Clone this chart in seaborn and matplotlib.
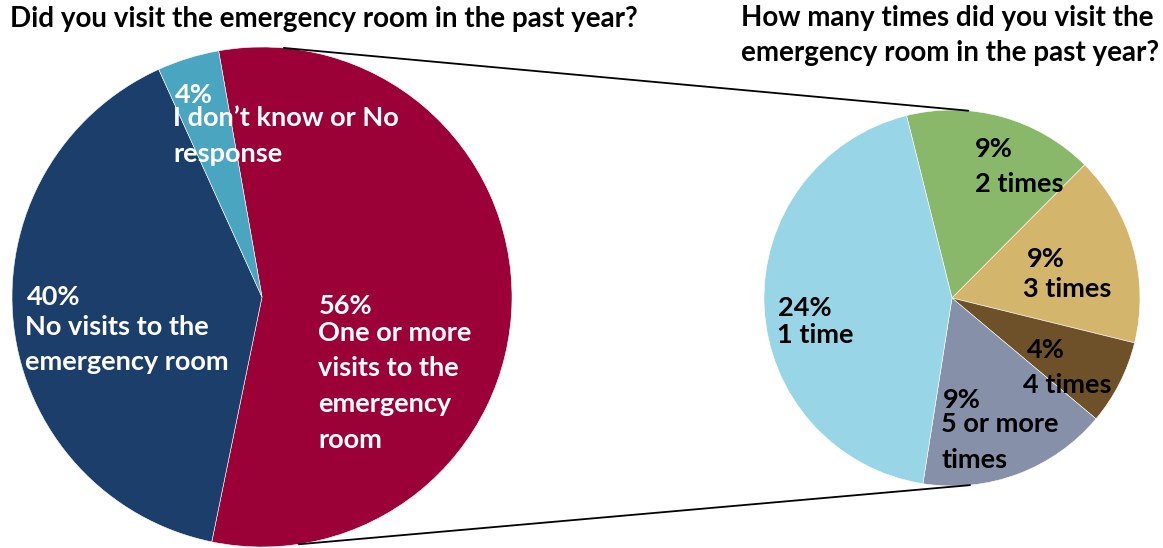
import matplotlib
matplotlib.use("Agg")
import matplotlib.pyplot as plt
from matplotlib.patches import ConnectionPatch
import numpy as np
import seaborn as sns

# Survey results
visit_labels = ["One or more\nvisits to the\nemergency\nroom", "No visits to the\nemergency room", "I don\u2019t know or No\nresponse"]
visit_values = [56, 40, 4]
visit_colors = ["#9B0036", "#1B3E6B", "#4AA6C0"]

count_labels = ["2 times", "3 times", "4 times", "5 or more\ntimes", "1 time"]
count_values = [9, 9, 4, 9, 24]
count_colors = ["#8AB86A", "#D3B56B", "#6E5128", "#8690A9", "#98D5E6"]

sns.set_theme(style="white")
plt.rcParams["font.family"] = ["Lato", "DejaVu Sans"]

W, H = 1163, 548
fig = plt.figure(figsize=(W / 100, H / 100), dpi=100)
fig.patch.set_facecolor("white")


def circle_axes(cx, cy, r):
    ax = fig.add_axes([(cx - r) / W, (H - cy - r) / H, 2 * r / W, 2 * r / H])
    ax.set_aspect("equal")
    ax.axis("off")
    return ax


ax_l = circle_axes(262, 297, 250)
ax_r = circle_axes(952, 298, 188)

wedge_kw = dict(edgecolor="white", linewidth=0.4)
ax_l.pie(visit_values, colors=visit_colors, startangle=100, counterclock=False,
         radius=1, wedgeprops=wedge_kw)
ax_r.pie(count_values, colors=count_colors, startangle=104, counterclock=False,
         radius=1, wedgeprops=wedge_kw)
for ax in (ax_l, ax_r):
    ax.set_xlim(-1, 1)
    ax.set_ylim(-1, 1)

FS = 19.5
STEP = 35.5


def label(x_pct, x_txt, base_pct, base_txt, value, text, color):
    # pixel placement: percentage on one baseline, description lines below it
    fig.text(x_pct / W, 1 - base_pct / H, f"{value}%", color=color, fontsize=FS,
             fontweight="bold", ha="left", va="baseline")
    for i, line in enumerate(text.split("\n")):
        fig.text(x_txt / W, 1 - (base_txt + i * STEP) / H, line, color=color,
                 fontsize=FS, fontweight="bold", ha="left", va="baseline")


# left pie labels
label(319, 318, 314, 341, visit_values[0], visit_labels[0], "white")
label(27, 25, 305, 335, visit_values[1], visit_labels[1], "white")
label(175, 173, 103, 126, visit_values[2], visit_labels[2], "white")

# right pie labels
label(975, 975, 157, 192, count_values[0], count_labels[0], "black")
label(1027, 1023, 267, 297, count_values[1], count_labels[1], "black")
label(1027, 1023, 358, 393, count_values[2], count_labels[2], "black")
label(943, 941, 408, 432, count_values[3], count_labels[3], "black")
label(778, 777, 316, 343, count_values[4], count_labels[4], "black")

# lines joining the "one or more visits" slice to the breakdown pie
for a_l, a_r in [(85, 85), (-81.5, -84.5)]:
    pa = (np.cos(np.radians(a_l)), np.sin(np.radians(a_l)))
    pb = (np.cos(np.radians(a_r)), np.sin(np.radians(a_r)))
    con = ConnectionPatch(xyA=pa, coordsA=ax_l.transData, xyB=pb, coordsB=ax_r.transData,
                          color="black", linewidth=1.3)
    fig.add_artist(con)

TFS = 20
fig.text(10 / W, 1 - 27 / H, "Did you visit the emergency room in the past year?",
         fontsize=TFS, fontweight="bold", ha="left", va="baseline", color="black")
fig.text(741 / W, 1 - 26 / H, "How many times did you visit the",
         fontsize=TFS, fontweight="bold", ha="left", va="baseline", color="black")
fig.text(741 / W, 1 - 61 / H, "emergency room in the past year?",
         fontsize=TFS, fontweight="bold", ha="left", va="baseline", color="black")

fig.savefig("out.png", dpi=100, facecolor="white")
